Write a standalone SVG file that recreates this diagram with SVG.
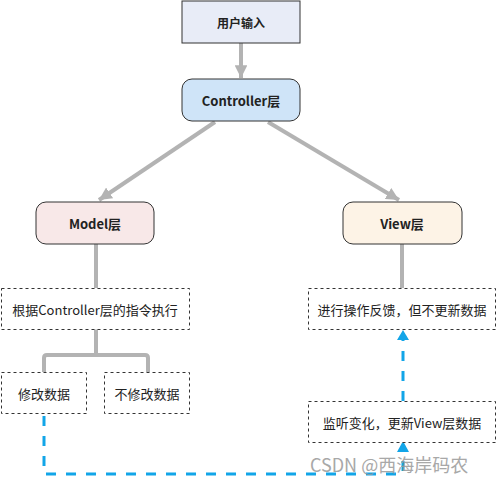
<svg xmlns="http://www.w3.org/2000/svg" width="497" height="483" viewBox="0 0 497 483">
<defs>
<style>
.t{font-family:"Noto Sans CJK SC","Microsoft YaHei",sans-serif;font-size:13px;fill:#222;text-anchor:middle;dominant-baseline:central}
.b{font-weight:bold}
.box{stroke:#333;stroke-width:1}
.dot{fill:#fff;stroke:#333;stroke-width:1;stroke-dasharray:3 3}
.g{fill:none;stroke:#b3b3b3;stroke-width:4}
.bl{fill:none;stroke:#12a5e8;stroke-width:3;stroke-dasharray:10 10}
</style>
<marker id="ga" markerWidth="3.2" markerHeight="3.2" refX="3" refY="1.5" orient="auto" markerUnits="strokeWidth" viewBox="0 0 3 3"><path d="M0,0 L3,1.5 L0,3 Z" fill="#b3b3b3"/></marker>
</defs>
<g id="connectors">
<line class="g" x1="241" y1="43" x2="241" y2="78" marker-end="url(#ga)"/>
<line class="g" x1="215" y1="122" x2="99" y2="200" marker-end="url(#ga)"/>
<line class="g" x1="268" y1="122" x2="399" y2="200" marker-end="url(#ga)"/>
<line class="g" x1="96" y1="244" x2="96" y2="288"/>
<line class="g" x1="402" y1="244" x2="402" y2="288"/>
<line class="g" x1="96" y1="329" x2="96" y2="355"/>
<path class="g" d="M44,372 V358 Q44,355 47,355 H145 Q148,355 148,358 V372"/>
<path class="bl" d="M44,416 V474 H403 V452"/>
<path d="M397,452 L403,441 L409,452 Z" fill="#12a5e8"/>
<line class="bl" x1="403" y1="401" x2="403" y2="340"/>
<path d="M397,340 L403,330 L409,340 Z" fill="#12a5e8"/>
</g>
<g id="n-input">
<rect class="box" x="182" y="1" width="118" height="42" fill="#e8ecf7"/>
<text class="t b" x="241" y="22" style="font-size:12px">用户输入</text>
</g>
<g id="n-controller">
<rect class="box" x="182" y="79" width="118" height="42" rx="10" fill="#cfe4f8"/>
<text class="t b" x="241" y="100">Controller层</text>
</g>
<g id="n-model">
<rect class="box" x="36" y="202" width="118" height="42" rx="10" fill="#f8e8e8"/>
<text class="t b" x="95" y="223">Model层</text>
</g>
<g id="n-view">
<rect class="box" x="343" y="202" width="119" height="42" rx="10" fill="#fdf3e6"/>
<text class="t b" x="402" y="223">View层</text>
</g>
<g id="n-exec">
<rect class="dot" x="1.5" y="288.5" width="188" height="41"/>
<text class="t" x="95" y="309">根据Controller层的指令执行</text>
</g>
<g id="n-feedback">
<rect class="dot" x="308.5" y="288.5" width="187" height="41"/>
<text class="t" x="402" y="309">进行操作反馈，但不更新数据</text>
</g>
<g id="n-modify">
<rect class="dot" x="1.5" y="372.5" width="85" height="41"/>
<text class="t" x="44" y="393">修改数据</text>
</g>
<g id="n-nomodify">
<rect class="dot" x="104.5" y="372.5" width="85" height="41"/>
<text class="t" x="147" y="393">不修改数据</text>
</g>
<g id="n-listen">
<rect class="dot" x="308.5" y="401.5" width="187" height="41"/>
<text class="t" x="402" y="422">监听变化，更新View层数据</text>
</g>
<text x="310" y="472" style="font-family:'Noto Sans CJK SC',sans-serif;font-size:18px;fill:#999;opacity:0.85">CSDN @西海岸码农</text>
</svg>
